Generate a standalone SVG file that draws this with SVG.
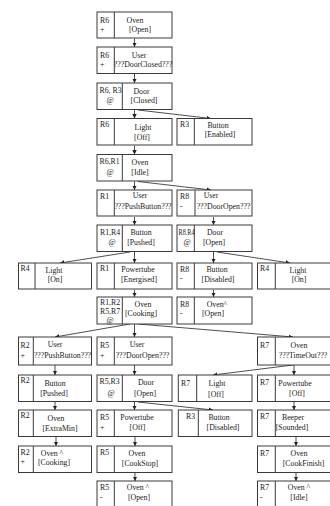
<svg xmlns="http://www.w3.org/2000/svg" width="330" height="506" viewBox="0 0 330 506">
<style>
.b{fill:#fff;stroke:#3a3a3a;stroke-width:1}
.t{font-family:"Liberation Serif","Times New Roman",serif;font-size:7.8px;fill:#1a1a1a}
.m{text-anchor:middle}
.c line{stroke:#222;stroke-width:0.8;marker-end:url(#a)}
</style>
<defs>
<marker id="a" viewBox="0 0 6 6" refX="6" refY="3" markerWidth="4.5" markerHeight="4.5" markerUnits="userSpaceOnUse" orient="auto"><path d="M0,0L6,3L0,6z" fill="#222"/></marker>
</defs>
<rect width="330" height="506" fill="#fff"/>
<g class="c">
<line x1="134.5" y1="38.5" x2="134.5" y2="47"/>
<line x1="134.5" y1="74" x2="134.5" y2="83"/>
<line x1="134.5" y1="110" x2="134.5" y2="118.5"/>
<line x1="138" y1="110" x2="211" y2="118.5"/>
<line x1="134.5" y1="145.5" x2="134.5" y2="154.5"/>
<line x1="134.5" y1="181.5" x2="134.5" y2="190"/>
<line x1="138" y1="181.5" x2="211" y2="190"/>
<line x1="134.5" y1="217" x2="134.5" y2="225"/>
<line x1="213.5" y1="217" x2="213.5" y2="225"/>
<line x1="134.5" y1="252" x2="134.5" y2="263"/>
<line x1="130" y1="252" x2="60" y2="263"/>
<line x1="213.5" y1="252" x2="213.5" y2="263"/>
<line x1="217" y1="252" x2="290" y2="263"/>
<line x1="134.5" y1="290" x2="134.5" y2="297"/>
<line x1="213.5" y1="290" x2="213.5" y2="297"/>
<line x1="130" y1="324" x2="55" y2="337"/>
<line x1="134.5" y1="324" x2="134.5" y2="337"/>
<line x1="138" y1="324" x2="293" y2="337"/>
<line x1="55" y1="365" x2="55" y2="375"/>
<line x1="134.5" y1="365" x2="134.5" y2="375"/>
<line x1="293" y1="365" x2="213" y2="375"/>
<line x1="294" y1="365" x2="294" y2="375"/>
<line x1="55" y1="402" x2="55" y2="410"/>
<line x1="134.5" y1="402" x2="134.5" y2="410"/>
<line x1="138" y1="402" x2="213" y2="410"/>
<line x1="294" y1="402" x2="294" y2="410"/>
<line x1="56" y1="437" x2="56" y2="446"/>
<line x1="135" y1="437" x2="135" y2="446"/>
<line x1="296" y1="437" x2="296" y2="446"/>
<line x1="135" y1="473" x2="135" y2="481"/>
<line x1="296" y1="473" x2="296" y2="481"/>
</g>

<g id="n1"><rect class="b" x="97" y="12" width="75" height="26"/><line class="b" x1="114.3" y1="12" x2="114.3" y2="38"/>
<text class="t" x="100" y="23">R6</text><text class="t" x="100" y="31.5">+</text>
<text class="t m" x="135" y="23">Oven</text><text class="t m" x="140" y="31.5">[Open]</text></g>

<g id="n2"><rect class="b" x="97" y="47" width="75" height="26.5"/><line class="b" x1="114.3" y1="47" x2="114.3" y2="73.5"/>
<text class="t" x="100" y="58">R6</text><text class="t" x="100" y="67">+</text>
<text class="t m" x="139" y="57.5">User</text><text class="t m" x="143" y="67">???DoorClosed???</text></g>

<g id="n3"><rect class="b" x="97" y="83" width="75" height="26.5"/><line class="b" x1="122.3" y1="83" x2="122.3" y2="109.5"/>
<text class="t" x="99.5" y="93">R6, R3</text><text class="t m" x="110" y="103">@</text>
<text class="t m" x="141.5" y="94">Door</text><text class="t m" x="144" y="103">[Closed]</text></g>

<g id="n4"><rect class="b" x="97" y="118.5" width="75" height="26.5"/><line class="b" x1="114.3" y1="118.5" x2="114.3" y2="145"/>
<text class="t" x="100" y="126.5">R6</text>
<text class="t m" x="143" y="130">Light</text><text class="t m" x="142" y="140">[Off]</text></g>

<g id="n5"><rect class="b" x="177" y="118.5" width="75" height="26.5"/><line class="b" x1="194.3" y1="118.5" x2="194.3" y2="145"/>
<text class="t" x="180" y="126.5">R3</text>
<text class="t m" x="218" y="128">Button</text><text class="t m" x="220" y="137">[Enabled]</text></g>

<g id="n6"><rect class="b" x="97" y="154.5" width="75" height="26.5"/><line class="b" x1="122.3" y1="154.5" x2="122.3" y2="181"/>
<text class="t" x="99.5" y="164">R6,R1</text><text class="t m" x="110" y="174.5">@</text>
<text class="t m" x="140" y="165">Oven</text><text class="t m" x="140" y="174.5">[Idle]</text></g>

<g id="n7"><rect class="b" x="97" y="190" width="75" height="26"/><line class="b" x1="114.3" y1="190" x2="114.3" y2="216"/>
<text class="t" x="100" y="198.5">R1</text>
<text class="t m" x="140" y="198">User</text><text class="t m" x="143" y="209">???PushButton???</text></g>

<g id="n8"><rect class="b" x="177" y="190" width="75" height="26"/><line class="b" x1="195" y1="190" x2="195" y2="216"/>
<text class="t" x="180" y="199">R8</text><text class="t" x="180" y="208.5">-</text>
<text class="t m" x="211" y="198">User</text><text class="t m" x="223.5" y="209">???DoorOpen???</text></g>

<g id="n9"><rect class="b" x="97" y="225" width="75" height="26.5"/><line class="b" x1="122.3" y1="225" x2="122.3" y2="251.5"/>
<text class="t" x="100" y="235">R1,R4</text><text class="t m" x="112" y="245">@</text>
<text class="t m" x="141" y="235">Button</text><text class="t m" x="141" y="245">[Pushed]</text></g>

<g id="n10"><rect class="b" x="177" y="225" width="75" height="26.5"/><line class="b" x1="194.3" y1="225" x2="194.3" y2="251.5"/>
<text class="t" x="178.5" y="235" textLength="16" lengthAdjust="spacingAndGlyphs">R8.R4</text><text class="t m" x="187" y="245">@</text>
<text class="t m" x="215" y="235">Door</text><text class="t m" x="214" y="245">[Open]</text></g>

<g id="n11"><rect class="b" x="18.5" y="263" width="73" height="26"/><line class="b" x1="35" y1="263" x2="35" y2="289"/>
<text class="t" x="20.5" y="271">R4</text>
<text class="t m" x="54" y="273">Light</text><text class="t m" x="55" y="281.5">[On]</text></g>

<g id="n12"><rect class="b" x="97" y="263" width="75" height="26"/><line class="b" x1="114.3" y1="263" x2="114.3" y2="289"/>
<text class="t" x="100" y="271">R1</text>
<text class="t m" x="138" y="271.5">Powertube</text><text class="t m" x="139" y="281.5">[Energised]</text></g>

<g id="n13"><rect class="b" x="177" y="263" width="75" height="26"/><line class="b" x1="194.3" y1="263" x2="194.3" y2="289"/>
<text class="t" x="180" y="272">R8</text><text class="t" x="180" y="281">-</text>
<text class="t m" x="217" y="271.5">Button</text><text class="t m" x="218" y="281.5">[Disabled]</text></g>

<g id="n14"><rect class="b" x="257.5" y="263" width="74" height="26"/><line class="b" x1="275.3" y1="263" x2="275.3" y2="289"/>
<text class="t" x="260" y="271">R4</text>
<text class="t m" x="298" y="273">Light</text><text class="t m" x="299" y="281.5">[On]</text></g>

<g id="n15"><rect class="b" x="97" y="297" width="75" height="27"/><line class="b" x1="122.3" y1="297" x2="122.3" y2="324"/>
<text class="t" x="100" y="305">R1,R2</text><text class="t" x="100" y="313.5">R5,R7</text><text class="t m" x="110" y="322.5">@</text>
<text class="t m" x="143" y="307">Oven</text><text class="t m" x="141" y="315.5">[Cooking]</text></g>

<g id="n16"><rect class="b" x="177" y="297" width="75" height="27"/><line class="b" x1="194.3" y1="297" x2="194.3" y2="324"/>
<text class="t" x="180" y="307">R8</text><text class="t" x="180" y="316">-</text>
<text class="t m" x="217" y="306.5">Oven^</text><text class="t m" x="213" y="316">[Open]</text></g>

<g id="n17"><rect class="b" x="18.5" y="337" width="73" height="28"/><line class="b" x1="33.3" y1="337" x2="33.3" y2="365"/>
<text class="t" x="20.5" y="348">R2</text><text class="t" x="20.5" y="358">+</text>
<text class="t m" x="55" y="347">User</text><text class="t m" x="62.5" y="358">???PushButton???</text></g>

<g id="n18"><rect class="b" x="97" y="337" width="75" height="28"/><line class="b" x1="114.3" y1="337" x2="114.3" y2="365"/>
<text class="t" x="100" y="348">R5</text><text class="t" x="100" y="358">+</text>
<text class="t m" x="137" y="347">User</text><text class="t m" x="142.5" y="358">???DoorOpen???</text></g>

<g id="n19"><rect class="b" x="257.5" y="337" width="74" height="28"/><line class="b" x1="275.3" y1="337" x2="275.3" y2="365"/>
<text class="t" x="260" y="348">R7</text>
<text class="t m" x="299" y="348">Oven</text><text class="t m" x="303" y="358">???TimeOut???</text></g>

<g id="n20"><rect class="b" x="18.5" y="375" width="73" height="26.5"/><line class="b" x1="33.3" y1="375" x2="33.3" y2="401.5"/>
<text class="t" x="20.5" y="383">R2</text>
<text class="t m" x="55" y="386">Button</text><text class="t m" x="54" y="395.5">[Pushed]</text></g>

<g id="n21"><rect class="b" x="97" y="375" width="75" height="26.5"/><line class="b" x1="122.3" y1="375" x2="122.3" y2="401.5"/>
<text class="t" x="99.5" y="384">R5,R3</text><text class="t m" x="111" y="396">@</text>
<text class="t m" x="146" y="384.5">Door</text><text class="t m" x="145" y="395.5">[Open]</text></g>

<g id="n22"><rect class="b" x="178.3" y="375" width="73.7" height="26.5"/><line class="b" x1="196.7" y1="375" x2="196.7" y2="401.5"/>
<text class="t" x="181" y="386">R7</text>
<text class="t m" x="217" y="386">Light</text><text class="t m" x="216" y="396.5">[Off]</text></g>

<g id="n23"><rect class="b" x="257.5" y="375" width="74" height="26.5"/><line class="b" x1="275.3" y1="375" x2="275.3" y2="401.5"/>
<text class="t" x="260" y="385">R7</text>
<text class="t m" x="295" y="386">Powertube</text><text class="t m" x="297" y="396">[Off]</text></g>

<g id="n24"><rect class="b" x="18.5" y="410" width="73" height="26.5"/><line class="b" x1="33.3" y1="410" x2="33.3" y2="436.5"/>
<text class="t" x="20.5" y="418">R2</text>
<text class="t m" x="56" y="421">Oven</text><text class="t m" x="60" y="431">[ExtraMin]</text></g>

<g id="n25"><rect class="b" x="97" y="410" width="75" height="26.5"/><line class="b" x1="114.3" y1="410" x2="114.3" y2="436.5"/>
<text class="t" x="100" y="420">R5</text><text class="t" x="100" y="429.5">+</text>
<text class="t m" x="137" y="420">Powertube</text><text class="t m" x="137.5" y="430">[Off]</text></g>

<g id="n26"><rect class="b" x="178.3" y="410" width="73.7" height="26.5"/><line class="b" x1="198.3" y1="410" x2="198.3" y2="436.5"/>
<text class="t" x="186" y="419">R3</text>
<text class="t m" x="219" y="420">Button</text><text class="t m" x="223" y="430">[Disabled]</text></g>

<g id="n27"><rect class="b" x="257.5" y="410" width="74" height="26.5"/><line class="b" x1="275.3" y1="410" x2="275.3" y2="436.5"/>
<text class="t" x="260" y="419">R7</text>
<text class="t m" x="293" y="420">Beeper</text><text class="t m" x="292" y="430">[Sounded]</text></g>

<g id="n28"><rect class="b" x="18.5" y="446" width="73" height="26.5"/><line class="b" x1="33.3" y1="446" x2="33.3" y2="472.5"/>
<text class="t" x="20.5" y="455">R2</text><text class="t" x="20.5" y="464">+</text>
<text class="t m" x="52" y="455.5">Oven ^</text><text class="t m" x="54" y="465">[Cooking]</text></g>

<g id="n29"><rect class="b" x="97" y="446" width="75" height="26.5"/><line class="b" x1="114.3" y1="446" x2="114.3" y2="472.5"/>
<text class="t" x="100" y="455">R5</text>
<text class="t m" x="137" y="456">Oven</text><text class="t m" x="140" y="465.5">[CookStop]</text></g>

<g id="n30"><rect class="b" x="257.5" y="446" width="74" height="26.5"/><line class="b" x1="275.3" y1="446" x2="275.3" y2="472.5"/>
<text class="t" x="260" y="456">R7</text>
<text class="t m" x="299" y="456">Oven</text><text class="t m" x="303.5" y="466">[CookFinish]</text></g>

<g id="n31"><rect class="b" x="97" y="481" width="75" height="30"/><line class="b" x1="114.3" y1="481" x2="114.3" y2="511"/>
<text class="t" x="100" y="490">R5</text><text class="t" x="100" y="500">-</text>
<text class="t m" x="138" y="490">Oven ^</text><text class="t m" x="139" y="500">[Open]</text></g>

<g id="n32"><rect class="b" x="257.5" y="481" width="74" height="30"/><line class="b" x1="275.3" y1="481" x2="275.3" y2="511"/>
<text class="t" x="260" y="490">R7</text><text class="t" x="260" y="500">-</text>
<text class="t m" x="299" y="490">Oven ^</text><text class="t m" x="299" y="500">[Idle]</text></g>
</svg>
